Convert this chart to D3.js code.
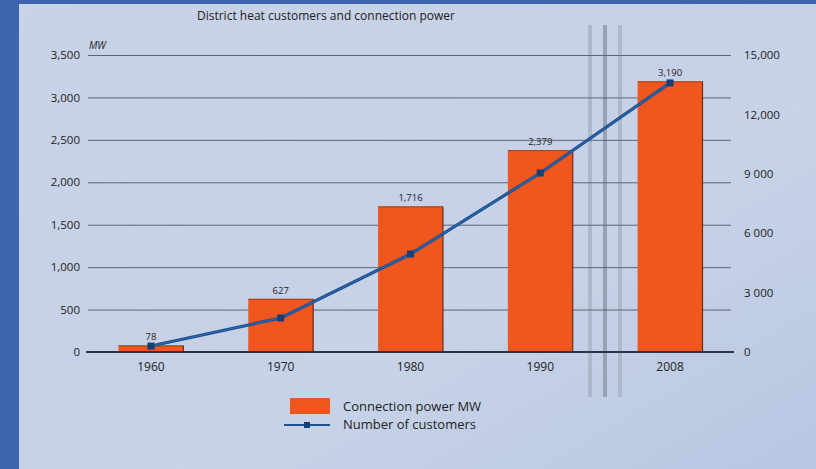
<html>
<head>
<meta charset="utf8">
<title>District heat customers and connection power</title>
<style>
  body { margin: 0; background: #3d64ad; }
  svg { display: block; }
  text { font-family: "Open Sans", "DejaVu Sans", sans-serif; fill: #222; }
  .grid line { stroke: #5d6573; stroke-width: 1; }
</style>
</head>
<body>
<svg width="816" height="469"></svg>
<script src="https://d3js.org/d3.v7.min.js"></script>
<script>
var years = ["1960", "1970", "1980", "1990", "2008"];
var powerMW = [78, 627, 1716, 2379, 3190];
var powerLabels = ["78", "627", "1,716", "2,379", "3,190"];
var customers = [300, 1720, 4950, 9040, 13590];
var leftTicks = [0, 500, 1000, 1500, 2000, 2500, 3000, 3500];
var leftTickLabels = ["0", "500", "1,000", "1,500", "2,000", "2,500", "3,000", "3,500"];
var rightTicks = [0, 3000, 6000, 9000, 12000, 15000];
var rightTickLabels = ["0", "3 000", "6 000", "9 000", "12,000", "15,000"];

var svg = d3.select("svg");

// panel background
var defs = svg.append("defs");
var grad = defs.append("linearGradient").attr("id", "bg")
    .attr("x1", "0%").attr("y1", "0%").attr("x2", "100%").attr("y2", "100%");
grad.append("stop").attr("offset", "0%").attr("stop-color", "#c9d3e8");
grad.append("stop").attr("offset", "45%").attr("stop-color", "#c6d1e7");
grad.append("stop").attr("offset", "60%").attr("stop-color", "#c8d3e8");
grad.append("stop").attr("offset", "100%").attr("stop-color", "#b7c7e2");

svg.append("rect").attr("x", 0).attr("y", 0).attr("width", 816).attr("height", 469).attr("fill", "#3d64ad");
svg.append("rect").attr("x", 19).attr("y", 4).attr("width", 797).attr("height", 465).attr("fill", "url(#bg)");

var x = d3.scaleBand().domain(years).range([88, 733]).paddingInner(0.5).paddingOuter(0.235);
var yL = d3.scaleLinear().domain([0, 3500]).range([352, 55]);
var yR = d3.scaleLinear().domain([0, 15000]).range([352, 55]);

// title
svg.append("text").attr("x", 326).attr("y", 20).attr("text-anchor", "middle")
    .style("font-size", "12px").text("District heat customers and connection power");

// axis break (under the grid)
var breakX = [590, 605, 620];
svg.append("g").selectAll("rect").data(breakX).enter().append("rect")
    .attr("x", function(d) { return d - 2; }).attr("y", 25)
    .attr("width", 4).attr("height", 372)
    .attr("fill", function(d, i) { return i === 1 ? "#97a2b5" : "#adb8ca"; });

// grid lines
svg.append("g").attr("class", "grid").selectAll("line")
    .data(leftTicks.filter(function(d) { return d > 0; }))
    .enter().append("line")
    .attr("x1", 88).attr("x2", 731)
    .attr("y1", function(d) { return yL(d) + 0.5; })
    .attr("y2", function(d) { return yL(d) + 0.5; });

// left axis labels
var axL = svg.append("g").attr("transform", "translate(86,0)")
    .call(d3.axisLeft(yL).tickValues(leftTicks).tickSize(0).tickPadding(6)
        .tickFormat(function(d, i) { return leftTickLabels[i]; }));
axL.select(".domain").remove();
axL.selectAll("text").style("font-size", "11.5px").attr("fill", "#222");

// right axis labels
var axR = svg.append("g").attr("transform", "translate(738,0)")
    .call(d3.axisRight(yR).tickValues(rightTicks).tickSize(0).tickPadding(6)
        .tickFormat(function(d, i) { return rightTickLabels[i]; }));
axR.select(".domain").remove();
axR.selectAll("text").style("font-size", "11.5px").attr("fill", "#222");

// unit label
svg.append("text").attr("x", 89).attr("y", 49).style("font-size", "10px")
    .style("font-style", "italic").text("MW");

// bars
var bars = svg.append("g").selectAll("g").data(years).enter().append("g");
bars.append("rect")
    .attr("x", function(d) { return x(d); })
    .attr("y", function(d, i) { return yL(powerMW[i]); })
    .attr("width", x.bandwidth())
    .attr("height", function(d, i) { return yL(0) - yL(powerMW[i]); })
    .attr("fill", "#f0571f");
bars.append("line")
    .attr("x1", function(d) { return x(d) + x.bandwidth(); })
    .attr("x2", function(d) { return x(d) + x.bandwidth(); })
    .attr("y1", function(d, i) { return yL(powerMW[i]); })
    .attr("y2", yL(0))
    .attr("stroke", "#6b2b14").attr("stroke-width", 1.2);
bars.append("line")
    .attr("x1", function(d) { return x(d); })
    .attr("x2", function(d) { return x(d) + x.bandwidth(); })
    .attr("y1", function(d, i) { return yL(powerMW[i]) + 0.5; })
    .attr("y2", function(d, i) { return yL(powerMW[i]) + 0.5; })
    .attr("stroke", "#8a3a1a").attr("stroke-width", 0.8);
bars.append("text")
    .attr("x", function(d) { return x(d) + x.bandwidth() / 2; })
    .attr("y", function(d, i) { return yL(powerMW[i]) - 5; })
    .attr("text-anchor", "middle").style("font-size", "9.5px")
    .text(function(d, i) { return powerLabels[i]; });

// zero line
svg.append("line").attr("x1", 86).attr("x2", 734)
    .attr("y1", yL(0)).attr("y2", yL(0))
    .attr("stroke", "#2e3442").attr("stroke-width", 2);

// x labels
svg.append("g").selectAll("text").data(years).enter().append("text")
    .attr("x", function(d) { return x(d) + x.bandwidth() / 2; })
    .attr("y", 371).attr("text-anchor", "middle").style("font-size", "12px")
    .text(function(d) { return d; });

// customers line
var line = d3.line()
    .x(function(d, i) { return x(years[i]) + x.bandwidth() / 2; })
    .y(function(d) { return yR(d); });
svg.append("path").datum(customers).attr("d", line)
    .attr("fill", "none").attr("stroke", "#1d4f91").attr("stroke-width", 3.2);
svg.append("path").datum(customers).attr("d", line)
    .attr("fill", "none").attr("stroke", "#3f7fc4").attr("stroke-width", 1).attr("opacity", 0.6);
svg.append("g").selectAll("rect").data(customers).enter().append("rect")
    .attr("x", function(d, i) { return x(years[i]) + x.bandwidth() / 2 - 3.5; })
    .attr("y", function(d) { return yR(d) - 3.5; })
    .attr("width", 7).attr("height", 7).attr("fill", "#163e78");

// legend
var lg = svg.append("g");
lg.append("rect").attr("x", 290).attr("y", 398).attr("width", 40).attr("height", 16).attr("fill", "#f0571f");
lg.append("text").attr("x", 343).attr("y", 411).style("font-size", "13px").text("Connection power MW");
lg.append("line").attr("x1", 284).attr("x2", 330).attr("y1", 425).attr("y2", 425)
    .attr("stroke", "#1d4f91").attr("stroke-width", 2);
lg.append("rect").attr("x", 304).attr("y", 422).attr("width", 6).attr("height", 6).attr("fill", "#163e78");
lg.append("text").attr("x", 343).attr("y", 429).style("font-size", "13px").text("Number of customers");
</script>
</body>
</html>
